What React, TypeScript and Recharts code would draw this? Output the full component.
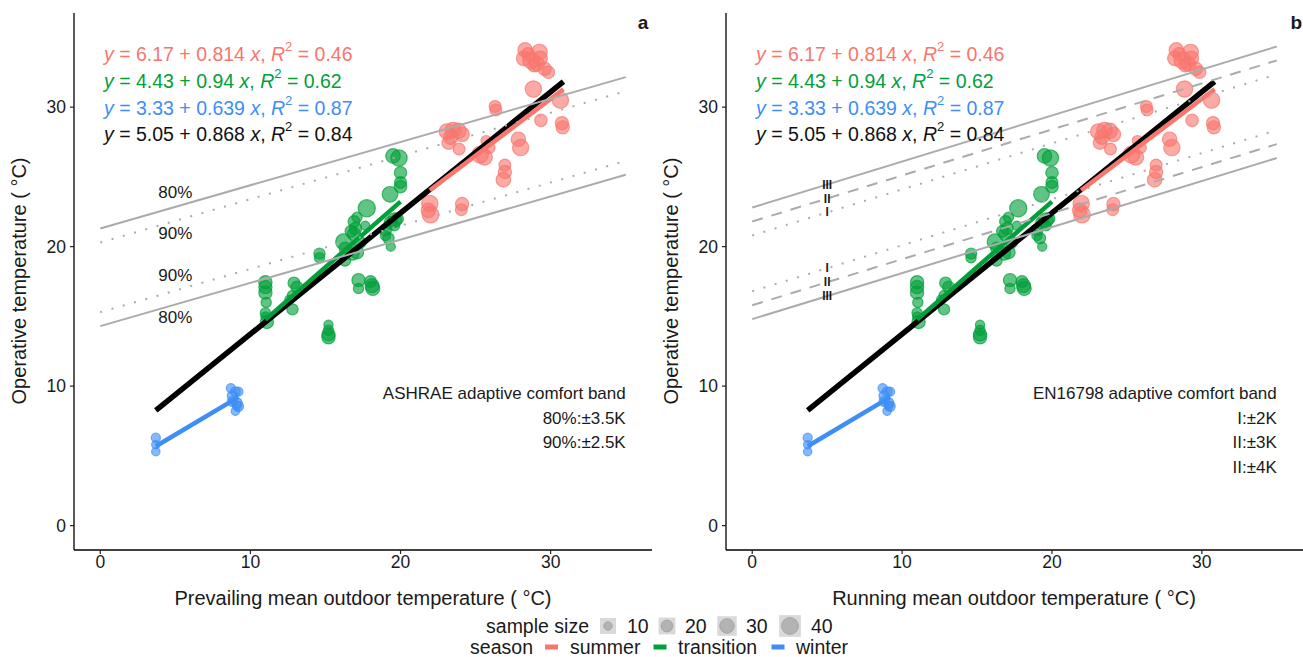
import React from 'react';
import { ComposedChart, Scatter, Line, XAxis, YAxis, ZAxis } from 'recharts';

const FONT = '"Liberation Sans", Arial, Helvetica, sans-serif';

// ---------- data ----------
const seasonNames = ['summer', 'transition', 'winter'];
const seasonColors = ['#F8766D', '#00A03A', '#3E8EF7'];
const sampleSizes = [10, 20, 30, 40];
const xTicks = [0, 10, 20, 30];
const yTicks = [0, 10, 20, 30];
const axisDomain: [number, number] = [-1.75, 36.75];

const summerPts = [
  { x: 28.3, y: 34.1, n: 30 }, { x: 28.2, y: 33.5, n: 30 }, { x: 28.5, y: 33.8, n: 25 },
  { x: 28.7, y: 33.35, n: 40 }, { x: 29.1, y: 33.1, n: 30 }, { x: 29.25, y: 33.95, n: 35 },
  { x: 29.3, y: 33.5, n: 30 }, { x: 29.6, y: 32.75, n: 25 }, { x: 29.85, y: 32.5, n: 22 },
  { x: 28.9, y: 33.0, n: 25 }, { x: 28.85, y: 31.3, n: 38 }, { x: 30.65, y: 30.5, n: 38 },
  { x: 30.75, y: 28.85, n: 25 }, { x: 30.8, y: 28.55, n: 25 }, { x: 29.35, y: 29.05, n: 22 },
  { x: 26.3, y: 30.05, n: 20 }, { x: 26.35, y: 29.8, n: 20 }, { x: 23.1, y: 28.25, n: 35 },
  { x: 23.5, y: 28.35, n: 35 }, { x: 23.85, y: 28.3, n: 35 }, { x: 24.1, y: 28.05, n: 30 },
  { x: 23.35, y: 27.85, n: 30 }, { x: 23.2, y: 27.45, n: 25 }, { x: 23.9, y: 27.0, n: 20 },
  { x: 25.7, y: 27.6, n: 15 }, { x: 25.3, y: 26.6, n: 40 }, { x: 25.6, y: 26.4, n: 35 },
  { x: 25.9, y: 27.1, n: 20 }, { x: 26.95, y: 25.85, n: 20 }, { x: 26.95, y: 25.35, n: 25 },
  { x: 26.85, y: 24.8, n: 30 }, { x: 27.85, y: 27.7, n: 30 }, { x: 28.0, y: 27.1, n: 38 },
  { x: 21.95, y: 23.1, n: 38 }, { x: 22.0, y: 22.3, n: 40 }, { x: 21.85, y: 22.6, n: 30 },
  { x: 24.1, y: 23.05, n: 25 }, { x: 24.05, y: 22.65, n: 20 },
];

const transitionPts = [
  { x: 11.0, y: 17.45, n: 25 }, { x: 11.0, y: 17.1, n: 25 }, { x: 11.0, y: 16.7, n: 25 },
  { x: 11.05, y: 16.0, n: 15 }, { x: 11.0, y: 15.25, n: 15 }, { x: 11.1, y: 14.6, n: 25 },
  { x: 11.0, y: 15.0, n: 12 }, { x: 12.9, y: 17.4, n: 20 }, { x: 13.1, y: 17.1, n: 20 },
  { x: 12.8, y: 16.5, n: 15 }, { x: 12.8, y: 15.5, n: 18 }, { x: 12.6, y: 16.2, n: 12 },
  { x: 14.6, y: 19.5, n: 18 }, { x: 14.6, y: 19.2, n: 15 }, { x: 15.2, y: 14.4, n: 12 },
  { x: 15.2, y: 14.0, n: 15 }, { x: 15.2, y: 13.7, n: 25 }, { x: 15.2, y: 13.5, n: 25 },
  { x: 16.2, y: 20.35, n: 35 }, { x: 16.3, y: 19.9, n: 20 }, { x: 16.3, y: 19.0, n: 18 },
  { x: 16.8, y: 19.5, n: 25 }, { x: 17.1, y: 19.6, n: 25 }, { x: 16.9, y: 21.8, n: 20 },
  { x: 17.0, y: 21.3, n: 22 }, { x: 16.9, y: 20.9, n: 25 }, { x: 17.1, y: 22.1, n: 15 },
  { x: 16.7, y: 21.1, n: 20 }, { x: 17.3, y: 20.3, n: 20 }, { x: 17.75, y: 22.75, n: 42 },
  { x: 17.65, y: 21.5, n: 12 }, { x: 17.2, y: 17.6, n: 25 }, { x: 17.2, y: 17.0, n: 15 },
  { x: 18.1, y: 17.2, n: 28 }, { x: 18.0, y: 17.5, n: 20 }, { x: 18.15, y: 17.0, n: 28 },
  { x: 19.0, y: 21.2, n: 20 }, { x: 19.35, y: 21.7, n: 25 }, { x: 19.6, y: 21.9, n: 30 },
  { x: 19.2, y: 20.6, n: 18 }, { x: 19.35, y: 20.0, n: 12 }, { x: 19.0, y: 20.8, n: 15 },
  { x: 19.3, y: 23.75, n: 35 }, { x: 19.5, y: 26.5, n: 30 }, { x: 19.9, y: 26.35, n: 38 },
  { x: 20.0, y: 25.3, n: 22 }, { x: 20.0, y: 24.6, n: 20 }, { x: 20.0, y: 24.3, n: 22 },
  { x: 19.8, y: 22.0, n: 20 }, { x: 19.6, y: 21.5, n: 15 },
];

const winterPts = [
  { x: 3.7, y: 6.3, n: 12 }, { x: 3.7, y: 5.8, n: 10 }, { x: 3.7, y: 5.3, n: 10 },
  { x: 8.7, y: 9.85, n: 12 }, { x: 9.0, y: 9.6, n: 14 }, { x: 9.2, y: 9.6, n: 12 },
  { x: 8.8, y: 9.3, n: 15 }, { x: 8.8, y: 8.9, n: 14 }, { x: 9.1, y: 8.8, n: 16 },
  { x: 9.2, y: 8.55, n: 15 }, { x: 9.0, y: 8.2, n: 10 }, { x: 9.1, y: 8.6, n: 12 },
];

// regression fits (end points of each fitted line)
const fitOverall = [{ x: 3.7, y: 8.26 }, { x: 30.85, y: 31.83 }];
const fitSummer = [{ x: 21.95, y: 24.04 }, { x: 30.85, y: 31.28 }];
const fitTransition = [{ x: 11.0, y: 14.77 }, { x: 20.0, y: 23.23 }];
const fitWinter = [{ x: 3.7, y: 5.69 }, { x: 9.2, y: 9.21 }];

const equations = [
  { a: '6.17', b: '0.814', r2: '0.46' },
  { a: '4.43', b: '0.94', r2: '0.62' },
  { a: '3.33', b: '0.639', r2: '0.87' },
  { a: '5.05', b: '0.868', r2: '0.84' },
];

// ASHRAE 55 band lines (x = 0 .. 35)
const ashrae80Up = [{ x: 0, y: 21.3 }, { x: 35, y: 32.15 }];
const ashrae90Up = [{ x: 0, y: 20.3 }, { x: 35, y: 31.15 }];
const ashrae90Lo = [{ x: 0, y: 15.3 }, { x: 35, y: 26.15 }];
const ashrae80Lo = [{ x: 0, y: 14.3 }, { x: 35, y: 25.15 }];

// EN16798 band lines (x = 0 .. 35)
const enIIIUp = [{ x: 0, y: 22.8 }, { x: 35, y: 34.35 }];
const enIIUp = [{ x: 0, y: 21.8 }, { x: 35, y: 33.35 }];
const enIUp = [{ x: 0, y: 20.8 }, { x: 35, y: 32.35 }];
const enILo = [{ x: 0, y: 16.8 }, { x: 35, y: 28.35 }];
const enIILo = [{ x: 0, y: 15.8 }, { x: 35, y: 27.35 }];
const enIIILo = [{ x: 0, y: 14.8 }, { x: 35, y: 26.35 }];

const bandLabelsA = [
  { x: 5, y: 23.9, t: '80%' }, { x: 5, y: 20.95, t: '90%' },
  { x: 5, y: 17.95, t: '90%' }, { x: 5, y: 14.95, t: '80%' },
];
const bandLabelsB = [
  { x: 5, y: 24.45, t: 'III' }, { x: 5, y: 23.45, t: 'II' }, { x: 5, y: 22.45, t: 'I' },
  { x: 5, y: 18.45, t: 'I' }, { x: 5, y: 17.45, t: 'II' }, { x: 5, y: 16.45, t: 'III' },
];
const notesA = [
  { x: 35, y: 9.45, t: 'ASHRAE adaptive comfort band' },
  { x: 35, y: 7.7, t: '80%:±3.5K' },
  { x: 35, y: 5.95, t: '90%:±2.5K' },
];
const notesB = [
  { x: 35, y: 9.45, t: 'EN16798 adaptive comfort band' },
  { x: 35, y: 7.7, t: 'I:±2K' },
  { x: 35, y: 5.95, t: 'II:±3K' },
  { x: 35, y: 4.2, t: 'II:±4K' },
];
const eqAnchors = [
  { x: 0.25, y: 33.8, i: 0 }, { x: 0.25, y: 31.9, i: 1 },
  { x: 0.25, y: 29.95, i: 2 }, { x: 0.25, y: 28.05, i: 3 },
];
const eqColors = [seasonColors[0], seasonColors[1], seasonColors[2], '#111111'];

// ---------- rendering helpers ----------
const GREY = '#ABABAB';
const TEXT = '#1a1a1a';

const pointShape = (color: string) => (p: any) => {
  const r = (p.width || 0) / 2;
  return (
    <circle cx={p.cx} cy={p.cy} r={r} fill={color} fillOpacity={0.62}
      stroke={color} strokeOpacity={0.7} strokeWidth={1.2} />
  );
};

const textShape = (opts: { size: number; anchor: string; weight?: string }) => (p: any) => (
  <text x={p.cx} y={p.cy} fontSize={opts.size} fontFamily={FONT} fill={TEXT}
    textAnchor={opts.anchor as any} dominantBaseline="central" fontWeight={opts.weight || 'normal'}>
    {p.payload.t}
  </text>
);

const eqShape = (p: any) => {
  const e = equations[p.payload.i];
  const c = eqColors[p.payload.i];
  return (
    <text x={p.cx} y={p.cy} fontSize={19.5} fontFamily={FONT} fill={c}
      dominantBaseline="central" style={{ whiteSpace: 'pre' }}>
      <tspan fontStyle="italic">y</tspan>
      <tspan>{` = ${e.a} + ${e.b} `}</tspan>
      <tspan fontStyle="italic">x</tspan>
      <tspan>{', '}</tspan>
      <tspan fontStyle="italic">R</tspan>
      <tspan dy={-8} fontSize={13}>2</tspan>
      <tspan dy={8}>{` = ${e.r2}`}</tspan>
    </text>
  );
};

const bandLine = (data: any[], key: string, style: 'solid' | 'dashed' | 'dotted') => (
  <Line key={key} data={data} dataKey="y" type="linear" stroke={GREY} strokeWidth={2}
    strokeDasharray={style === 'dashed' ? '11 9' : style === 'dotted' ? '2 9.7' : undefined}
    dot={false} activeDot={false} isAnimationActive={false} legendType="none" {...({ zIndex: 700 } as any)} />
);

const fitLine = (data: any[], key: string, color: string, w: number) => (
  <Line key={key} data={data} dataKey="y" type="linear" stroke={color} strokeWidth={w}
    dot={false} activeDot={false} isAnimationActive={false} legendType="none" {...({ zIndex: 650 } as any)} />
);

type PanelProps = {
  left: number; width: number; rightMargin: number;
  bands: { data: any[]; style: 'solid' | 'dashed' | 'dotted' }[];
  bandLabels: any[]; bandLabelSize: number; bandLabelWeight: string; notes: any[];
  letter: { x: number; y: number; t: string }[];
};

const Panel = ({ left, width, rightMargin, bands, bandLabels, bandLabelSize, bandLabelWeight, notes, letter }: PanelProps) => (
  <div style={{ position: 'absolute', left, top: 0 }}>
    <ComposedChart width={width} height={580} margin={{ top: 13, right: rightMargin, bottom: 0, left: 0 }}>
      <XAxis type="number" dataKey="x" domain={axisDomain} ticks={xTicks} allowDataOverflow
        height={30} tickSize={4} tickMargin={2}
        axisLine={{ stroke: '#000', strokeWidth: 1.3 }} tickLine={{ stroke: '#222', strokeWidth: 1.2 }}
        tick={{ fill: TEXT, fontSize: 17.5, fontFamily: FONT }} />
      <YAxis type="number" dataKey="y" domain={axisDomain} ticks={yTicks} allowDataOverflow
        width={74} tickSize={4} tickMargin={4}
        axisLine={{ stroke: '#000', strokeWidth: 1.3 }} tickLine={{ stroke: '#222', strokeWidth: 1.2 }}
        tick={{ fill: TEXT, fontSize: 17.5, fontFamily: FONT }} />
      <ZAxis type="number" dataKey="n" domain={[0, 50]} range={[0, 275]} />
      <Scatter data={transitionPts} dataKey="y" shape={pointShape(seasonColors[1])} isAnimationActive={false} />
      <Scatter data={summerPts} dataKey="y" shape={pointShape(seasonColors[0])} isAnimationActive={false} />
      <Scatter data={winterPts} dataKey="y" shape={pointShape(seasonColors[2])} isAnimationActive={false} />
      {fitLine(fitOverall, 'fo', '#000', 5.5)}
      {fitLine(fitSummer, 'fs', seasonColors[0], 4.5)}
      {fitLine(fitTransition, 'ft', seasonColors[1], 4.5)}
      {fitLine(fitWinter, 'fw', seasonColors[2], 4.5)}
      {bands.map((b, i) => bandLine(b.data, 'b' + i, b.style))}
      <Scatter data={eqAnchors} dataKey="y" shape={eqShape} isAnimationActive={false} {...({ zIndex: 800 } as any)} />
      <Scatter data={bandLabels} dataKey="y" shape={textShape({ size: bandLabelSize, anchor: 'middle', weight: bandLabelWeight })} isAnimationActive={false} {...({ zIndex: 800 } as any)} />
      <Scatter data={notes} dataKey="y" shape={textShape({ size: 17, anchor: 'end' })} isAnimationActive={false} {...({ zIndex: 800 } as any)} />
      <Scatter data={letter} dataKey="y" shape={textShape({ size: 19, anchor: 'middle', weight: 'bold' })} isAnimationActive={false} {...({ zIndex: 800 } as any)} />
    </ComposedChart>
  </div>
);

const bandsA = [
  { data: ashrae80Up, style: 'solid' as const }, { data: ashrae90Up, style: 'dotted' as const },
  { data: ashrae90Lo, style: 'dotted' as const }, { data: ashrae80Lo, style: 'solid' as const },
];
const bandsB = [
  { data: enIIIUp, style: 'solid' as const }, { data: enIIUp, style: 'dashed' as const },
  { data: enIUp, style: 'dotted' as const }, { data: enILo, style: 'dotted' as const },
  { data: enIILo, style: 'dashed' as const }, { data: enIIILo, style: 'solid' as const },
];

const sizeKeyX = [608, 667, 727, 790];
const sizeLabelX = [627, 685, 746, 811];
const seasonKeyX = [551.5, 660, 778];
const seasonLabelX = [570, 678, 796];

const Overlay = () => (
  <svg width={1303} height={657} style={{ position: 'absolute', left: 0, top: 0, pointerEvents: 'none' }}>
    <g fontFamily={FONT} fill={TEXT}>
      <text x={19} y={281} fontSize={20} textAnchor="middle" dominantBaseline="central"
        transform="rotate(-90 19 281)">Operative temperature ( °C)</text>
      <text x={671} y={281} fontSize={20} textAnchor="middle" dominantBaseline="central"
        transform="rotate(-90 671 281)">Operative temperature ( °C)</text>
      <text x={363} y={598} fontSize={20} textAnchor="middle" dominantBaseline="central">
        Prevailing mean outdoor temperature ( °C)</text>
      <text x={1014} y={598} fontSize={20} textAnchor="middle" dominantBaseline="central">
        Running mean outdoor temperature ( °C)</text>

      <text x={589} y={626} fontSize={19.5} textAnchor="end" dominantBaseline="central">sample size</text>
      {sampleSizes.map((s, i) => {
        const d = Math.sqrt((s * 5.5) / Math.PI) * 2;
        const box = Math.max(16, d + 5);
        return (
          <g key={s}>
            <rect x={sizeKeyX[i] - box / 2} y={626 - box / 2} width={box} height={box} fill="#D9D9D9" />
            <circle cx={sizeKeyX[i]} cy={626} r={d / 2} fill="#B3B3B3" stroke="#A6A6A6" />
            <text x={sizeLabelX[i]} y={626} fontSize={19.5} dominantBaseline="central">{s}</text>
          </g>
        );
      })}
      <text x={533} y={647} fontSize={19.5} textAnchor="end" dominantBaseline="central">season</text>
      {seasonNames.map((s, i) => (
        <g key={s}>
          <rect x={seasonKeyX[i] - 6.5} y={644.5} width={13} height={5} fill={seasonColors[i]} />
          <text x={seasonLabelX[i]} y={647} fontSize={19.5} dominantBaseline="central">{s}</text>
        </g>
      ))}
    </g>
  </svg>
);

export default function App() {
  return (
    <div style={{ position: 'absolute', left: 0, top: 0, width: 1303, height: 657, background: '#fff', overflow: 'hidden' }}>
      <Panel left={0} width={660} rightMargin={8} bands={bandsA} bandLabels={bandLabelsA} bandLabelSize={17}
        bandLabelWeight="normal" notes={notesA} letter={[{ x: 36.15, y: 36.1, t: 'a' }]} />
      <Panel left={652} width={651} rightMargin={0} bands={bandsB} bandLabels={bandLabelsB} bandLabelSize={12}
        bandLabelWeight="bold" notes={notesB} letter={[{ x: 36.3, y: 36.1, t: 'b' }]} />
      <Overlay />
    </div>
  );
}
